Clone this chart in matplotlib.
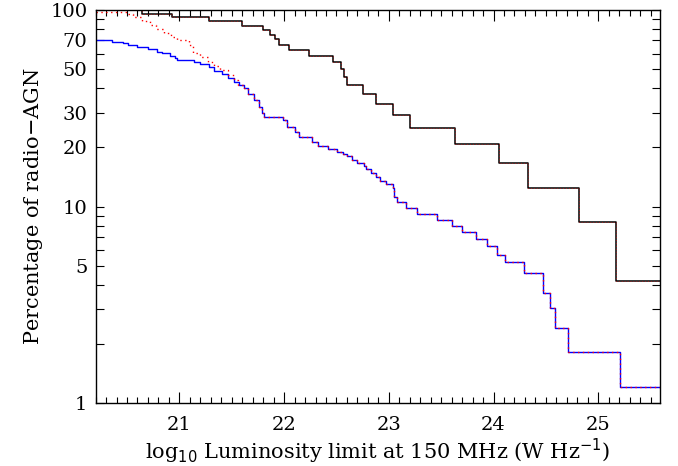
import numpy as np
import matplotlib
matplotlib.use("Agg")
import matplotlib.pyplot as plt
from matplotlib.ticker import FixedLocator, MultipleLocator, NullFormatter

plt.rcParams['font.family'] = 'DejaVu Serif'

# black: full sample, step values (x where the step starts, percentage)
black_x = [20.20, 20.64, 20.93, 21.28, 21.60, 21.80, 21.87, 21.91, 21.95, 22.05,
           22.24, 22.47, 22.54, 22.57, 22.60, 22.75, 22.88, 23.04, 23.20, 23.63,
           24.05, 24.33, 24.82, 25.17, 25.59]
black_y = [100.0, 95.8, 91.7, 87.5, 83.3, 79.2, 75.0, 70.8, 66.7, 62.5,
           58.3, 54.2, 50.0, 45.8, 41.7, 37.5, 33.3, 29.2, 25.0, 20.8,
           16.7, 12.5, 8.33, 4.17, 4.17]

# blue: second sample
blue_x = [20.20, 20.36, 20.46, 20.51, 20.60, 20.70, 20.79, 20.83, 20.91, 20.96,
          20.98, 21.14, 21.20, 21.28, 21.33, 21.41, 21.46, 21.52, 21.57, 21.62,
          21.66, 21.71, 21.76, 21.79, 21.81, 21.99, 22.03, 22.10, 22.14, 22.27,
          22.32, 22.42, 22.51, 22.56, 22.60, 22.65, 22.70, 22.76, 22.78, 22.83,
          22.88, 22.92, 22.97, 23.04, 23.05, 23.08, 23.16, 23.27, 23.46, 23.60,
          23.70, 23.83, 23.94, 24.03, 24.11, 24.29, 24.47, 24.54, 24.59, 24.71,
          25.21, 25.59]
blue_y = [70.3, 69.0, 67.7, 66.4, 65.0, 63.1, 61.4, 60.1, 58.3, 56.7,
          55.7, 54.6, 53.1, 51.5, 49.1, 47.3, 44.9, 43.2, 41.5, 39.9,
          37.6, 34.8, 32.2, 29.8, 28.7, 27.5, 25.4, 24.0, 22.6, 21.4,
          20.4, 19.6, 19.0, 18.6, 18.1, 17.3, 16.6, 16.1, 15.6, 14.8,
          14.2, 13.5, 13.0, 12.4, 11.2, 10.5, 9.8, 9.2, 8.5, 7.96,
          7.4, 6.8, 6.3, 5.7, 5.2, 4.6, 3.65, 3.05, 2.4, 1.83,
          1.21, 1.21]

# red dotted: own values at low luminosity, then joins the blue curve
red_x_low = [20.20, 20.50, 20.56, 20.64, 20.72, 20.78, 20.85, 20.92, 20.98, 21.09,
             21.13, 21.20, 21.27, 21.33, 21.39, 21.46, 21.52, 21.56]
red_y_low = [98.0, 96.0, 92.5, 88.0, 83.9, 80.0, 76.1, 73.0, 70.3, 66.4,
             60.2, 57.5, 54.6, 52.0, 49.5, 46.5, 44.1, 41.5]
join = blue_x.index(21.62)
red_x = red_x_low + blue_x[join:]
red_y = red_y_low + blue_y[join:]

fig = plt.figure(figsize=(6.78, 4.66), dpi=100)
ax = fig.add_axes([0.141, 0.135, 0.8325, 0.8435])

ax.step(black_x, black_y, where='post', color='black', lw=1.1)
ax.step(blue_x, blue_y, where='post', color='blue', lw=1.0)
ax.step(black_x, black_y, where='post', color='red', lw=0.7, ls=(0, (1, 2)), alpha=0.5)
ax.step(red_x, red_y, where='post', color='red', lw=1.0, ls=(0, (1, 2.5)))

ax.set_xlim(20.2, 25.59)
ax.set_yscale('log')
ax.set_ylim(1, 100)

ax.xaxis.set_major_locator(MultipleLocator(1))
ax.xaxis.set_minor_locator(MultipleLocator(0.1))
ylabs = [1, 5, 10, 20, 30, 50, 70, 100]
ax.yaxis.set_major_locator(FixedLocator(ylabs))
ax.yaxis.set_minor_locator(FixedLocator([2, 3, 4, 6, 7, 8, 9, 40, 60, 80, 90]))
ax.yaxis.set_minor_formatter(NullFormatter())
ax.set_yticklabels([str(v) for v in ylabs])

ax.tick_params(which='both', direction='in', top=True, right=True, labelsize=14, width=0.8)
ax.tick_params(axis='x', which='major', length=8, pad=9)
ax.tick_params(axis='x', which='minor', length=4)
ax.tick_params(axis='y', which='both', length=6, pad=6)
for s in ax.spines.values():
    s.set_linewidth(1.0)

ax.set_xlabel(r'log$_{10}$ Luminosity limit at 150 MHz (W Hz$^{-1}$)', fontsize=15, labelpad=2)
ax.set_ylabel('Percentage of radio$-$AGN', fontsize=15, labelpad=4)

fig.savefig('out.png', dpi=100)
